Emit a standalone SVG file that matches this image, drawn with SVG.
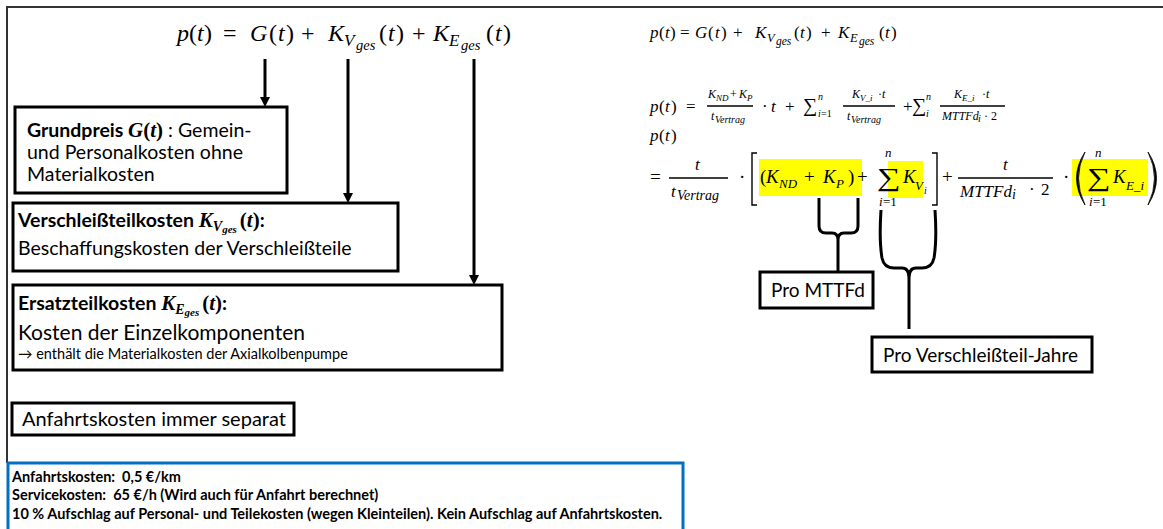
<svg xmlns="http://www.w3.org/2000/svg" width="1163" height="529" viewBox="0 0 1163 529">
<defs>
<style>
.box{fill:#fff;stroke:#000;stroke-width:3}
.t{font-family:Lato,"Liberation Sans",sans-serif;fill:#000}
.m{font-family:"Liberation Serif","DejaVu Serif",serif;fill:#000}
.i{font-style:italic}
.b{font-weight:bold}
.conn{stroke:#000;stroke-width:3;fill:none}
.thin{stroke:#000;stroke-width:1.4;fill:none}
.hl{fill:#ffff00}
.frame{stroke:#333;stroke-width:2;fill:none}
</style>
<marker id="ah" viewBox="0 0 10 10" refX="1" refY="5" markerWidth="10" markerHeight="10" markerUnits="userSpaceOnUse" orient="auto"><path d="M0,0 L10,5 L0,10 z" fill="#000"/></marker>
</defs>
<rect width="1163" height="529" fill="#fff"/>
<path class="frame" d="M7,463 V7 H1163"/>

<g id="formula-main" class="m" font-size="24">
<text y="41"><tspan x="177" class="i">p</tspan><tspan x="189">(</tspan><tspan x="197" class="i">t</tspan><tspan x="204">)</tspan><tspan x="223">=</tspan><tspan x="250" class="i">G</tspan><tspan x="269">(</tspan><tspan x="278" class="i">t</tspan><tspan x="286">)</tspan><tspan x="301">+</tspan><tspan x="328" class="i">K</tspan><tspan x="379">(</tspan><tspan x="388" class="i">t</tspan><tspan x="396">)</tspan><tspan x="412">+</tspan><tspan x="433" class="i">K</tspan><tspan x="486">(</tspan><tspan x="495" class="i">t</tspan><tspan x="503">)</tspan></text>
<text class="i" font-size="17" y="46"><tspan x="344">V</tspan><tspan x="449">E</tspan></text>
<text class="i" font-size="14.5" y="50"><tspan x="356">ges</tspan><tspan x="461">ges</tspan></text>
</g>

<g id="connectors">
<line class="conn" x1="265" y1="59" x2="265" y2="98" marker-end="url(#ah)"/>
<line class="conn" x1="348" y1="59" x2="348" y2="194" marker-end="url(#ah)"/>
<line class="conn" x1="474" y1="59" x2="474" y2="276" marker-end="url(#ah)"/>
<path class="conn" d="M819,198 L819,226 Q819,233 826,233 L832,233 Q838,233 838,240 L838,271 M858,198 L858,226 Q858,233 851,233 L844,233 Q838,233 838,240"/>
<path class="conn" d="M881,210 Q879,240 882,258 Q884,268 894,268 L902,268 Q909,268 909,278 L909,329 M935,210 Q937,240 934,258 Q932,268 922,268 L916,268 Q909,268 909,278"/>
</g>

<g id="node-grundpreis">
<rect class="box" x="15" y="107" width="272" height="86"/>
<text class="t" x="27" y="137" font-size="19.5"><tspan class="b">Grundpreis </tspan><tspan class="m b i" font-size="21">G</tspan><tspan class="m b" font-size="21">(</tspan><tspan class="m b i" font-size="21">t</tspan><tspan class="m b" font-size="21">)</tspan> : Gemein-</text>
<text class="t" x="27" y="159" font-size="19.5">und Personalkosten ohne</text>
<text class="t" x="27" y="181" font-size="19.5">Materialkosten</text>
</g>

<g id="node-verschleiss">
<rect class="box" x="13" y="203" width="385" height="68"/>
<text class="t" x="18" y="227" font-size="19.5"><tspan class="b">Verschleißteilkosten </tspan><tspan class="m b i" font-size="21">K</tspan><tspan class="m b i" font-size="14" dy="4">V</tspan><tspan class="m b i" font-size="11" dy="2">ges</tspan><tspan class="m b" font-size="21" dx="3" dy="-6">(</tspan><tspan class="m b i" font-size="21">t</tspan><tspan class="m b" font-size="21">)</tspan><tspan class="b">:</tspan></text>
<text class="t" x="18" y="255" font-size="19.5">Beschaffungskosten der Verschleißteile</text>
</g>

<g id="node-ersatzteil">
<rect class="box" x="13" y="285" width="489" height="85"/>
<text class="t" x="18" y="310" font-size="19.5"><tspan class="b">Ersatzteilkosten </tspan><tspan class="m b i" font-size="21">K</tspan><tspan class="m b i" font-size="14" dy="4">E</tspan><tspan class="m b i" font-size="11" dy="2">ges</tspan><tspan class="m b" font-size="21" dx="3" dy="-6">(</tspan><tspan class="m b i" font-size="21">t</tspan><tspan class="m b" font-size="21">)</tspan><tspan class="b">:</tspan></text>
<text class="t" x="18" y="340" font-size="21">Kosten der Einzelkomponenten</text>
<text class="t" x="18" y="359" font-size="14.5">→ enthält die Materialkosten der Axialkolbenpumpe</text>
</g>

<g id="node-anfahrt">
<rect class="box" x="12" y="403" width="282" height="32"/>
<text class="t" x="22" y="426" font-size="20">Anfahrtskosten immer separat</text>
</g>

<g id="node-info">
<rect x="8" y="463" width="675" height="72" fill="#fff" stroke="#0070C0" stroke-width="3"/>
<text class="t b" font-size="14.5" style="white-space:pre"><tspan x="12" y="482">Anfahrtskosten:  0,5 €/km</tspan><tspan x="12" y="500">Servicekosten:  65 €/h (Wird auch für Anfahrt berechnet)</tspan><tspan x="12" y="519">10 % Aufschlag auf Personal- und Teilekosten (wegen Kleinteilen). Kein Aufschlag auf Anfahrtskosten.</tspan></text>
</g>

<g id="formula-right-1" class="m" font-size="17">
<text y="38"><tspan x="650" class="i">p</tspan><tspan x="659">(</tspan><tspan x="665" class="i">t</tspan><tspan x="670">)</tspan><tspan x="680">=</tspan><tspan x="695" class="i">G</tspan><tspan x="708">(</tspan><tspan x="715" class="i">t</tspan><tspan x="721">)</tspan><tspan x="733">+</tspan><tspan x="755" class="i">K</tspan><tspan x="794">(</tspan><tspan x="800" class="i">t</tspan><tspan x="806">)</tspan><tspan x="821">+</tspan><tspan x="838" class="i">K</tspan><tspan x="879">(</tspan><tspan x="885" class="i">t</tspan><tspan x="891">)</tspan></text>
<text class="i" font-size="12.5" y="42"><tspan x="767">V</tspan><tspan x="850">E</tspan></text>
<text class="i" font-size="11.5" y="45"><tspan x="776">ges</tspan><tspan x="859">ges</tspan></text>
</g>

<g id="formula-right-2" class="m">
<text font-size="17" y="112"><tspan x="650" class="i">p</tspan><tspan x="659">(</tspan><tspan x="665" class="i">t</tspan><tspan x="671">)</tspan><tspan x="686">=</tspan><tspan x="762">·</tspan><tspan x="771" class="i">t</tspan><tspan x="785">+</tspan><tspan x="803" font-size="20">∑</tspan><tspan x="903">+</tspan><tspan x="912" font-size="20">∑</tspan></text>
<text font-size="10" class="i"><tspan x="818" y="100">n</tspan><tspan x="818" y="117">i</tspan><tspan x="926" y="100">n</tspan><tspan x="926" y="117">i</tspan></text>
<text font-size="10" x="821" y="117">=1</text>
<text font-size="12" y="98"><tspan x="708" class="i">K</tspan><tspan x="730">+</tspan><tspan x="739" class="i">K</tspan><tspan x="852" class="i">K</tspan><tspan x="878">·</tspan><tspan x="882" class="i">t</tspan><tspan x="954" class="i">K</tspan><tspan x="982">·</tspan><tspan x="986" class="i">t</tspan></text>
<text font-size="9" class="i" y="101"><tspan x="716">ND</tspan><tspan x="747">P</tspan><tspan x="860">V_i</tspan><tspan x="962">E_i</tspan></text>
<line class="thin" x1="707" y1="106" x2="753" y2="106" stroke-width="0.9"/>
<line class="thin" x1="843" y1="106" x2="895" y2="106" stroke-width="0.9"/>
<line class="thin" x1="940" y1="106" x2="1005" y2="106" stroke-width="0.9"/>
<text font-size="12" class="i" y="120"><tspan x="711">t</tspan><tspan x="847">t</tspan><tspan x="942">MTTFd</tspan></text>
<text font-size="10" class="i" y="123"><tspan x="715">Vertrag</tspan><tspan x="851">Vertrag</tspan><tspan x="978" y="122">i</tspan></text>
<text font-size="12" y="120"><tspan x="984">·</tspan><tspan x="991">2</tspan></text>
<text font-size="17" y="141"><tspan x="650" class="i">p</tspan><tspan x="659">(</tspan><tspan x="665" class="i">t</tspan><tspan x="671">)</tspan></text>
</g>

<g id="formula-right-3" class="m">
<rect class="hl" x="759" y="159" width="103" height="37"/>
<rect class="hl" x="888" y="161" width="35" height="37"/>
<rect class="hl" x="1072" y="159" width="76" height="37"/>
<text font-size="19" y="183"><tspan x="650">=</tspan><tspan x="739">·</tspan><tspan x="760">(</tspan><tspan x="766" class="i">K</tspan><tspan x="804">+</tspan><tspan x="823" class="i">K</tspan><tspan x="848">)</tspan><tspan x="857">+</tspan><tspan x="903" class="i">K</tspan><tspan x="942">+</tspan><tspan x="1063">·</tspan><tspan x="1113" class="i">K</tspan></text>
<text font-size="13" class="i" y="188"><tspan x="779">ND</tspan><tspan x="836">P</tspan><tspan x="915" y="190">V</tspan><tspan x="1126" y="190">E_i</tspan></text>
<text font-size="10" class="i" x="924" y="194">i</text>
<text font-size="25.5" transform="translate(877,186) scale(1.3,1)" x="0" y="0">∑</text>
<text font-size="25.5" transform="translate(1087,186) scale(1.3,1)" x="0" y="0">∑</text>
<text font-size="13" class="i" y="157"><tspan x="885">n</tspan><tspan x="1095">n</tspan></text>
<text font-size="13" y="206"><tspan x="879" class="i">i</tspan><tspan x="883">=1</tspan><tspan x="1089" class="i">i</tspan><tspan x="1093">=1</tspan></text>
<text font-size="17" class="i" y="170"><tspan x="695">t</tspan><tspan x="1003">t</tspan></text>
<line class="thin" x1="669" y1="178" x2="728" y2="178" stroke-width="1"/>
<line class="thin" x1="958" y1="178" x2="1053" y2="178" stroke-width="1"/>
<text font-size="17" class="i" y="197"><tspan x="671">t</tspan><tspan x="960">MTTFd</tspan></text>
<text font-size="14" class="i" y="200"><tspan x="677">Vertrag</tspan><tspan x="1012" y="199">i</tspan></text>
<text font-size="17" y="195"><tspan x="1029">·</tspan><tspan x="1041">2</tspan></text>
<path class="thin" d="M757,153 H752 V205 H757 M932,153 H937 V205 H932"/>
<path d="M1085,152 Q1068,178 1085,205 Q1072,178 1085,152 Z" fill="#000" stroke="#000" stroke-width="0.8"/>
<path d="M1148,152 Q1165,178 1148,205 Q1161,178 1148,152 Z" fill="#000" stroke="#000" stroke-width="0.8"/>
</g>

<g id="node-pro-mttfd">
<rect class="box" x="760" y="272" width="113" height="36"/>
<text class="t" x="771" y="297" font-size="19">Pro MTTFd</text>
</g>
<g id="node-pro-verschleiss">
<rect class="box" x="872" y="337" width="220" height="35"/>
<text class="t" x="883" y="362" font-size="19">Pro Verschleißteil-Jahre</text>
</g>
</svg>
